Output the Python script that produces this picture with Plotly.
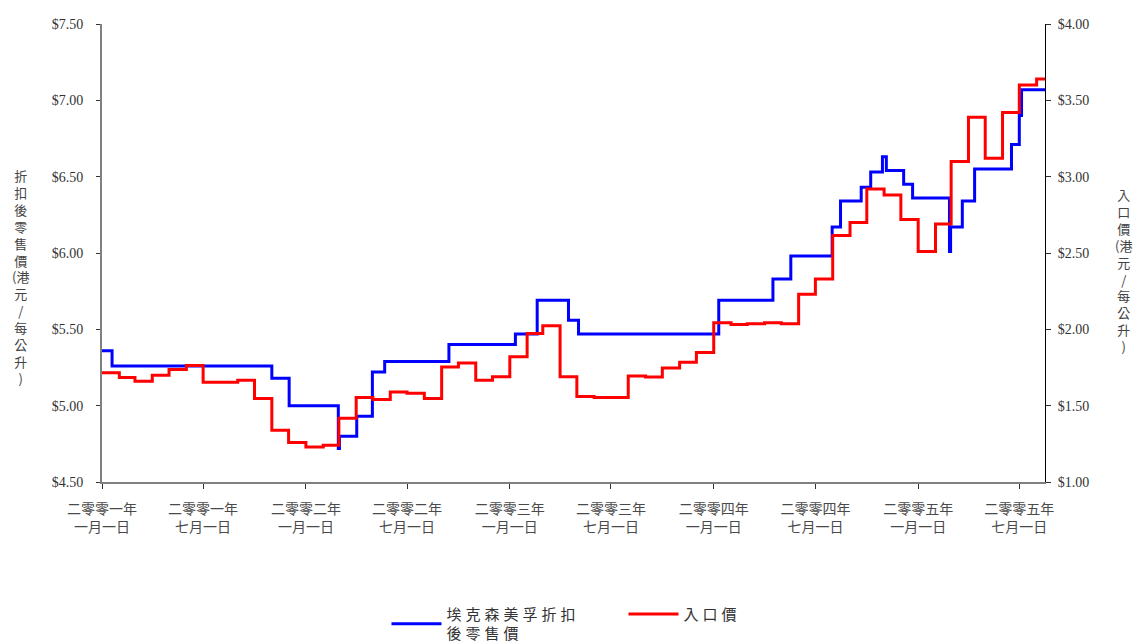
import plotly.graph_objects as go

# ---------------- data ----------------
# ExxonMobil discounted retail price (HK$ / litre) - left axis, step changes
retail_dates = ["2001-01-01", "2001-01-19", "2001-11-01", "2001-12-02", "2002-02-28",
                "2002-03-02", "2002-04-02", "2002-04-30", "2002-05-22", "2002-09-14",
                "2003-01-11", "2003-02-19", "2003-04-16", "2003-05-04", "2004-01-10",
                "2004-04-16", "2004-05-18", "2004-07-31", "2004-08-15", "2004-09-21",
                "2004-10-08", "2004-10-29", "2004-11-05", "2004-12-06", "2004-12-22",
                "2005-02-26", "2005-02-28", "2005-03-21", "2005-04-12", "2005-06-17",
                "2005-07-01", "2005-07-05", "2005-08-16"]
retail_prices = [5.36, 5.26, 5.18, 5.00, 4.72,
                 4.80, 4.93, 5.22, 5.29, 5.40,
                 5.47, 5.69, 5.56, 5.47, 5.69,
                 5.83, 5.98, 6.17, 6.34, 6.43,
                 6.53, 6.63, 6.54, 6.45, 6.36,
                 6.01, 6.17, 6.34, 6.55, 6.71,
                 6.90, 7.07, 7.07]

# Import price (HK$ / litre) - right axis, monthly
import_dates = ["2001-01-01", "2001-02-01", "2001-03-01", "2001-04-01", "2001-05-01", "2001-06-01",
                "2001-07-01", "2001-08-01", "2001-09-01", "2001-10-01", "2001-11-01", "2001-12-01",
                "2002-01-01", "2002-02-01", "2002-03-01", "2002-04-01", "2002-05-01", "2002-06-01",
                "2002-07-01", "2002-08-01", "2002-09-01", "2002-10-01", "2002-11-01", "2002-12-01",
                "2003-01-01", "2003-02-01", "2003-03-01", "2003-04-01", "2003-05-01", "2003-06-01",
                "2003-07-01", "2003-08-01", "2003-09-01", "2003-10-01", "2003-11-01", "2003-12-01",
                "2004-01-01", "2004-02-01", "2004-03-01", "2004-04-01", "2004-05-01", "2004-06-01",
                "2004-07-01", "2004-08-01", "2004-09-01", "2004-10-01", "2004-11-01", "2004-12-01",
                "2005-01-01", "2005-02-01", "2005-03-01", "2005-04-01", "2005-05-01", "2005-06-01",
                "2005-07-01", "2005-08-01", "2005-08-16"]
import_prices = [1.715, 1.685, 1.66, 1.70, 1.737, 1.763,
                 1.654, 1.654, 1.667, 1.547, 1.339, 1.259,
                 1.23, 1.241, 1.418, 1.554, 1.54, 1.59,
                 1.582, 1.547, 1.754, 1.78, 1.667, 1.689,
                 1.82, 1.973, 2.023, 1.689, 1.56, 1.554,
                 1.554, 1.695, 1.687, 1.746, 1.785, 1.849,
                 2.043, 2.032, 2.036, 2.043, 2.036, 2.23,
                 2.33, 2.615, 2.70, 2.92, 2.88, 2.72,
                 2.51, 2.69, 3.10, 3.39, 3.12, 3.42,
                 3.60, 3.64, 3.64]

x_tick_dates = ["2001-01-01", "2001-07-01", "2002-01-01", "2002-07-01", "2003-01-01",
                "2003-07-01", "2004-01-01", "2004-07-01", "2005-01-01", "2005-07-01"]
x_tick_labels = ["二零零一年<br>一月一日", "二零零一年<br>七月一日",
                 "二零零二年<br>一月一日", "二零零二年<br>七月一日",
                 "二零零三年<br>一月一日", "二零零三年<br>七月一日",
                 "二零零四年<br>一月一日", "二零零四年<br>七月一日",
                 "二零零五年<br>一月一日", "二零零五年<br>七月一日"]
x_range = ["2001-01-01", "2005-08-16"]
left_range = [4.5, 7.5]
right_range = [1.0, 4.0]
left_title = "折扣後零售價(港元/每公升)"
right_title = "入口價(港元/每公升)"
series_names = [["埃克森美孚折扣", "後零售價"], ["入口價"]]

# ---------------- layout helpers ----------------
W, H = 1136, 644
ML, MR, MT, MB = 102, 91, 24, 162
PW = W - ML - MR
PH = H - MT - MB
CJK = "Noto Sans CJK TC"
SERIF = "Liberation Serif"


def px_x(px):
    return (px - ML) / PW


def px_y(py):
    return (H - MB - py) / PH


def spaced(lines):
    return "<br>".join('<span style="letter-spacing:4px">%s</span>' % s for s in lines)


def vertical_rows(text):
    rows = []
    pending = ""
    for ch in text:
        if ch == "(":
            pending = ch
            continue
        rows.append(pending + ch)
        pending = ""
    return "<br>".join(rows)


def vertical_title(text, x_px, y_mid, size):
    return dict(text=vertical_rows(text), x=px_x(x_px), y=px_y(y_mid),
                xref="paper", yref="paper", xanchor="center", yanchor="middle",
                align="center", showarrow=False,
                font=dict(family=CJK, size=size, color="#444444"))


fig = go.Figure()
fig.add_trace(go.Scatter(x=retail_dates, y=retail_prices, mode="lines", line_shape="hv",
                         line=dict(color="#0000FF", width=3), name=spaced(series_names[0]),
                         yaxis="y"))
fig.add_trace(go.Scatter(x=import_dates, y=import_prices, mode="lines", line_shape="hv",
                         line=dict(color="#FF0000", width=3), name=spaced(series_names[1]),
                         yaxis="y2"))

annotations = [vertical_title(left_title, 20, 277, 13),
               vertical_title(right_title, 1123, 270, 13)]

fig.update_layout(
    width=W, height=H,
    margin=dict(l=ML, r=MR, t=MT, b=MB, pad=0, autoexpand=False),
    paper_bgcolor="white", plot_bgcolor="white",
    showlegend=True,
    legend=dict(orientation="h", x=0.553, xanchor="center", y=-0.253, yanchor="top",
                font=dict(family=CJK, size=15, color="#333333"), itemwidth=50,
                entrywidth=172, traceorder="normal"),
    xaxis=dict(type="date", range=x_range, tickmode="array", tickvals=x_tick_dates,
               ticktext=x_tick_labels, ticks="outside", ticklen=5, tickwidth=1,
               tickcolor="#333333", showline=True, linecolor="#808080", linewidth=2,
               showgrid=False, zeroline=False, ticklabelstandoff=8,
               tickfont=dict(family=CJK, size=14, color="#4a4a4a")),
    yaxis=dict(range=left_range, dtick=0.5, tick0=4.5, tickformat="$.2f",
               ticks="outside", ticklen=4, tickcolor="#333333", showline=True,
               linecolor="#808080", linewidth=2, showgrid=False, zeroline=False,
               ticklabelstandoff=10,
               tickfont=dict(family=SERIF, size=14, color="#333333")),
    yaxis2=dict(range=right_range, dtick=0.5, tick0=1.0, tickformat="$.2f",
                overlaying="y", side="right", anchor="x",
                ticks="outside", ticklen=5, tickcolor="#333333", showline=True,
                linecolor="#000000", linewidth=1, showgrid=False, zeroline=False,
                ticklabelstandoff=4,
                tickfont=dict(family=SERIF, size=14, color="#333333")),
    yaxis3=dict(range=right_range, dtick=0.5, tick0=1.0, overlaying="y", side="right",
                anchor="x", ticks="inside", ticklen=5, tickcolor="#333333",
                showticklabels=False, showline=False, showgrid=False, zeroline=False),
    annotations=annotations,
)

fig.write_html("out.html", config={"displayModeBar": False},
               post_script="document.body.style.margin='0px';")
